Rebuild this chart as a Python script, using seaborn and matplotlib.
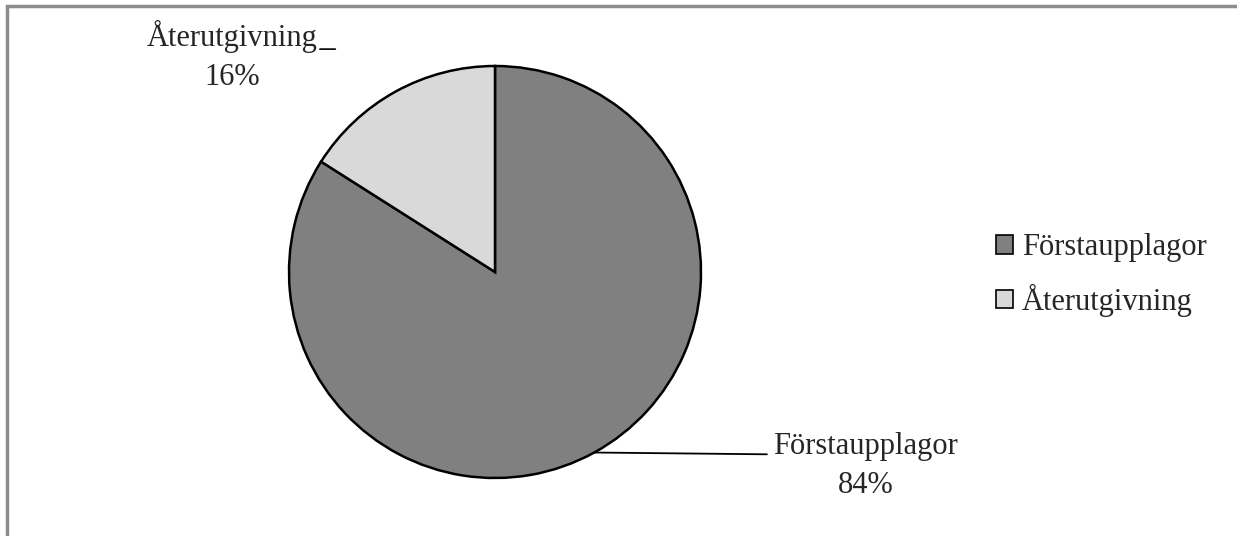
import numpy as np
import matplotlib
matplotlib.use("Agg")
import matplotlib.pyplot as plt
from matplotlib.patches import Rectangle
import seaborn as sns

# Data
kategorier = ['Förstaupplagor', 'Återutgivning']
andelar = [84, 16]
farger = ['#808080', '#d9d9d9']

sns.set_theme(style="white")
plt.rcParams['font.family'] = ['Liberation Serif', 'DejaVu Serif']

W, H = 1237, 536
fig = plt.figure(figsize=(W / 100, H / 100), dpi=100)

# ram runt diagrammet (fortsätter utanför bilden)
fig.patches.append(Rectangle((7 / W, -0.2), 1.2, 1.2 - 6 / H, transform=fig.transFigure,
                             fill=False, edgecolor='#8c8c8c', linewidth=2.5, zorder=0))

# pie-axlar: centrum (495, 272), radie 206 px
cx, cy, r = 495, 272, 206
ax = fig.add_axes([(cx - r) / W, (H - cy - r) / H, 2 * r / W, 2 * r / H])
wedges, _ = ax.pie(andelar, colors=farger, startangle=90, counterclock=False,
                   wedgeprops=dict(edgecolor='black', linewidth=1.8))
ax.set_xlim(-1, 1)
ax.set_ylim(-1, 1)
ax.set_aspect('equal')
ax.axis('off')

fs = 22
# etikett Förstaupplagor med linje från kilens mitt
w0 = wedges[0]
mid = np.deg2rad((w0.theta1 + w0.theta2) / 2)
ax.annotate('', xy=(np.cos(mid), np.sin(mid)), xytext=(1.32, -0.885),
            arrowprops=dict(arrowstyle='-', color='black', lw=1.3, shrinkA=0, shrinkB=0),
            annotation_clip=False)
ax.text(1.80, -1.073, f'{kategorier[0]}\n{andelar[0]}%', ha='center', va='baseline',
        fontsize=fs, linespacing=1.45, clip_on=False)

# etikett Återutgivning
ax.text(-1.275, 0.907, f'{kategorier[1]}\n{andelar[1]}%', ha='center', va='baseline',
        fontsize=fs, linespacing=1.45, clip_on=False)
ax.annotate('', xy=(-0.775, 1.082), xytext=(-0.85, 1.082),
            arrowprops=dict(arrowstyle='-', color='black', lw=1.2, shrinkA=0, shrinkB=0),
            annotation_clip=False)

# legend
handles = [Rectangle((0, 0), 1, 1, facecolor=c, edgecolor='black', linewidth=1.2) for c in farger]
fig.legend(handles, kategorier, loc='center left', bbox_to_anchor=(996 / W, (H - 275) / H),
           frameon=False, fontsize=fs, handlelength=0.55, handleheight=0.55,
           handletextpad=0.3, labelspacing=0.7, borderaxespad=0, borderpad=0)

fig.savefig('out.png', dpi=100)
